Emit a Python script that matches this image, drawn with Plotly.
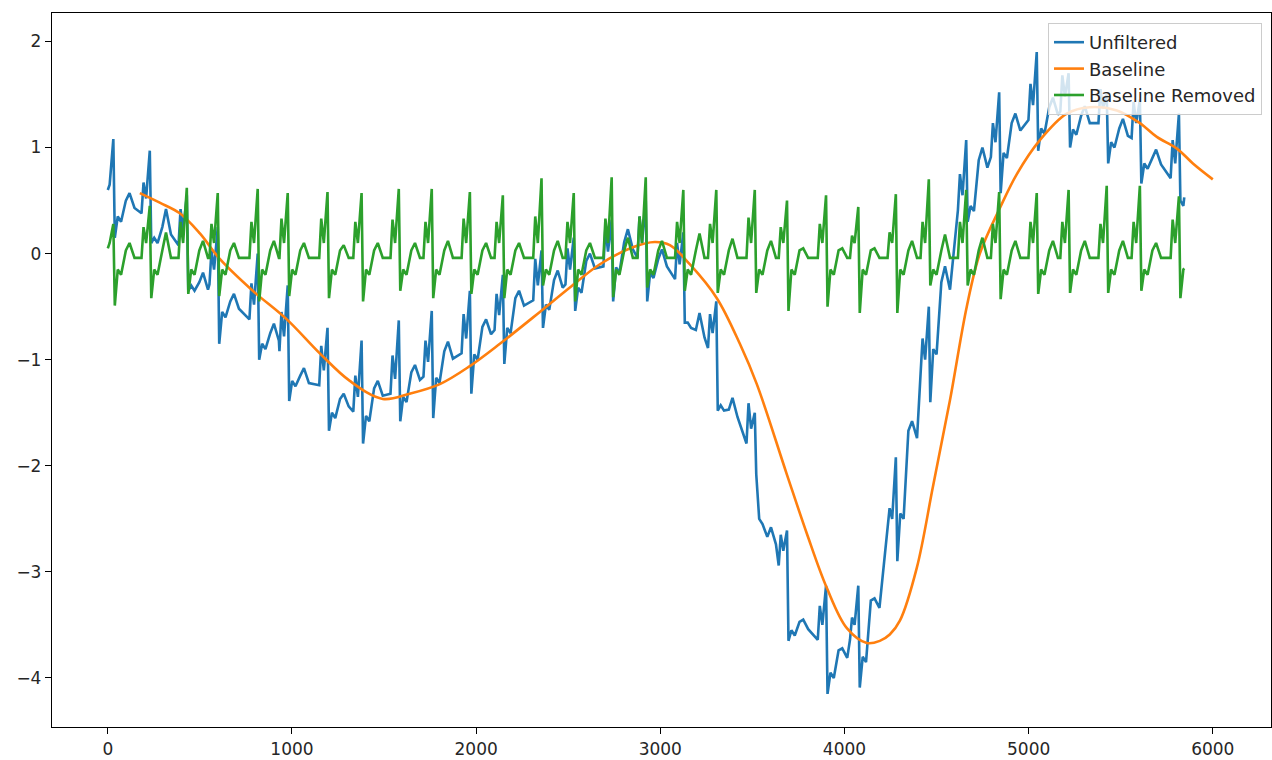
import plotly.graph_objects as go

# ---------------- data ----------------
# sample index of each heartbeat's R peak
beat_x = [30, 228, 429, 597, 814, 977, 1193, 1378, 1580, 1759, 1966, 2145, 2355, 2530,
          2736, 2921, 3125, 3304, 3513, 3688, 3900, 4075, 4279, 4458, 4661, 4840, 5044,
          5217, 5424, 5604, 5816]

# "Baseline Removed" per-beat wave heights
removed_p = [0.10, 0.25, 0.30, 0.28, 0.30, 0.33, 0.33, 0.30, 0.32, 0.30, 0.33, 0.30, 0.35,
             0.30, 0.33, 0.35, 0.30, 0.28, 0.34, 0.25, 0.28, 0.17, 0.20, 0.30, 0.30, 0.28,
             0.30, 0.30, 0.28, 0.30, 0.32]
removed_r = [0.28, 0.45, 0.62, 0.57, 0.61, 0.57, 0.58, 0.57, 0.61, 0.61, 0.58, 0.55, 0.71,
             0.57, 0.72, 0.72, 0.60, 0.60, 0.60, 0.50, 0.55, 0.44, 0.56, 0.70, 0.60, 0.58,
             0.57, 0.60, 0.64, 0.64, 0.54]
removed_s = [-0.49, -0.42, -0.38, -0.40, -0.45, -0.40, -0.42, -0.45, -0.35, -0.42, -0.38,
             -0.42, -0.30, -0.45, -0.41, -0.32, -0.35, -0.37, -0.37, -0.54, -0.50, -0.56,
             -0.56, -0.30, -0.30, -0.43, -0.38, -0.37, -0.37, -0.35, -0.42]
removed_t = [0.10, 0.20, 0.12, 0.10, 0.12, 0.10, 0.08, 0.10, 0.10, 0.12, 0.10, 0.10, 0.12,
             0.10, 0.15, 0.12, 0.19, 0.14, 0.12, 0.05, 0.05, 0.05, 0.12, 0.18, 0.15, 0.12,
             0.12, 0.12, 0.12, 0.10, 0.10]
removed_between = [-0.04, 0.10, -0.15, -0.20, 0.03, -0.04]
removed_start = 0.05
removed_end = -0.14
signal_end_x = 5845

# "Unfiltered" levels before / just after / late in each beat, and its spike tops / bottoms
unf_pre = [0.55, 0.42, 0.12, -0.25, -0.58, -0.88, -1.20, -1.45, -1.28, -1.12, -0.90, -0.68,
           -0.40, -0.25, -0.08, 0.00, -0.20, -0.85, -1.75, -2.90, -3.60, -3.60, -2.60,
           -1.10, 0.45, 0.95, 1.30, 1.38, 1.27, 1.13, 0.75]
unf_mid = [0.50, 0.30, -0.15, -0.40, -0.70, -1.05, -1.35, -1.38, -1.20, -1.02, -0.80, -0.55,
           -0.33, -0.17, 0.02, -0.03, -0.50, -1.28, -2.35, -3.40, -3.80, -3.65, -2.30,
           -0.75, 0.60, 1.10, 1.33, 1.32, 1.20, 1.00, 0.60]
unf_post = [0.47, 0.22, -0.30, -0.48, -0.78, -1.18, -1.40, -1.30, -1.15, -0.95, -0.72, -0.45,
            -0.28, -0.10, 0.08, -0.08, -0.75, -1.50, -2.70, -3.50, -3.77, -3.30, -1.70,
            -0.30, 0.85, 1.20, 1.35, 1.27, 1.15, 0.88, 0.67]
unf_r = [1.08, 0.97, 0.55, 0.25, 0.00, -0.30, -0.70, -0.82, -0.63, -0.54, -0.35, -0.20,
         0.03, 0.15, 0.32, 0.50, 0.20, -0.45, -1.50, -2.61, -3.13, -3.13, -1.92, -0.50,
         1.07, 1.52, 1.90, 1.70, 1.50, 1.45, 1.32]
unf_s = [0.15, 0.10, -0.35, -0.85, -1.00, -1.39, -1.67, -1.79, -1.58, -1.55, -1.32, -1.04,
         -0.70, -0.54, -0.45, -0.45, -0.65, -1.48, -2.08, -3.65, -4.15, -4.09, -2.90,
         -1.40, 0.30, 0.57, 0.97, 1.00, 0.85, 0.66, 0.50]

# "Baseline"
baseline_x = [174, 282, 391, 500, 608, 787, 972, 1151, 1314, 1493, 1640, 1803, 1966, 2129,
              2346, 2509, 2672, 2851, 2970, 3052, 3160, 3307, 3432, 3524, 3687, 3796, 3904,
              4013, 4121, 4192, 4246, 4301, 4393, 4480, 4572, 4664, 4735, 4844, 4936, 5061,
              5207, 5332, 5479, 5604, 5696, 5805, 5892, 6000]
baseline_y = [0.57, 0.48, 0.38, 0.19, -0.05, -0.35, -0.62, -0.94, -1.20, -1.37, -1.32, -1.23,
              -1.06, -0.85, -0.55, -0.32, -0.10, 0.06, 0.11, 0.08, -0.10, -0.42, -0.85,
              -1.23, -2.08, -2.64, -3.15, -3.53, -3.67, -3.65, -3.59, -3.46, -2.96, -2.20,
              -1.39, -0.50, 0.00, 0.43, 0.75, 1.07, 1.32, 1.38, 1.35, 1.23, 1.10, 0.99,
              0.85, 0.70]

x_ticks = [0, 1000, 2000, 3000, 4000, 5000, 6000]
y_ticks = [-4, -3, -2, -1, 0, 1, 2]

# ---------------- assemble the polylines from the readings ----------------
shape_offsets = [-45, -34, -20, 0, 8, 24, 42, 68, 88, 115]

removed_x, removed_y = [0], [removed_start]
unf_y = [unf_pre[0] + removed_start]
for i, bx in enumerate(beat_x):
    g = [removed_between[0], removed_p[i], removed_between[1], removed_r[i], removed_s[i],
         removed_between[2], removed_between[3], removed_between[4], removed_t[i],
         removed_between[5]]
    pre, mid, post = unf_pre[i], unf_mid[i], unf_post[i]
    b = [pre + g[0], pre + g[1], pre + g[2], unf_r[i], unf_s[i],
         mid + g[5], mid + g[6], post + g[7], post + g[8], post + g[9]]
    for off, gv, bv in zip(shape_offsets, g, b):
        x = bx + off
        if 0 < x < signal_end_x:
            removed_x.append(x)
            removed_y.append(gv)
            unf_y.append(bv)
removed_x.append(signal_end_x)
removed_y.append(removed_end)
unf_y.append(unf_post[-1] + removed_end)

# ---------------- figure ----------------
LW = 2.6
fig = go.Figure()
fig.add_trace(go.Scatter(x=removed_x, y=unf_y, mode="lines", name="Unfiltered",
                         line=dict(color="#1f77b4", width=LW)))
fig.add_trace(go.Scatter(x=baseline_x, y=baseline_y, mode="lines", name="Baseline",
                         line=dict(color="#ff7f0e", width=LW, shape="spline", smoothing=1.0)))
fig.add_trace(go.Scatter(x=removed_x, y=removed_y, mode="lines", name="Baseline Removed",
                         line=dict(color="#2ca02c", width=LW)))

axis_common = dict(showgrid=False, zeroline=False, showline=True, linecolor="#000000",
                   linewidth=1.3, mirror=True, ticks="outside", ticklen=6, tickwidth=1.3,
                   tickcolor="#000000")
fig.update_xaxes(range=[-303, 6316], tickvals=x_ticks, **axis_common)
fig.update_yaxes(range=[-4.462, 2.268], tickvals=y_ticks, **axis_common)

fig.update_layout(
    width=1272, height=760,
    margin=dict(l=52, r=1, t=13, b=33),
    plot_bgcolor="white", paper_bgcolor="white",
    font=dict(family="DejaVu Sans", size=17, color="#262626"),
    showlegend=True,
    legend=dict(x=0.9926, xanchor="right", y=0.986, yanchor="top",
                bgcolor="rgba(255,255,255,0.8)", bordercolor="#cccccc", borderwidth=1,
                font=dict(family="DejaVu Sans", size=18, color="#262626"),
                tracegroupgap=0),
)

fig.write_html("out.html")
